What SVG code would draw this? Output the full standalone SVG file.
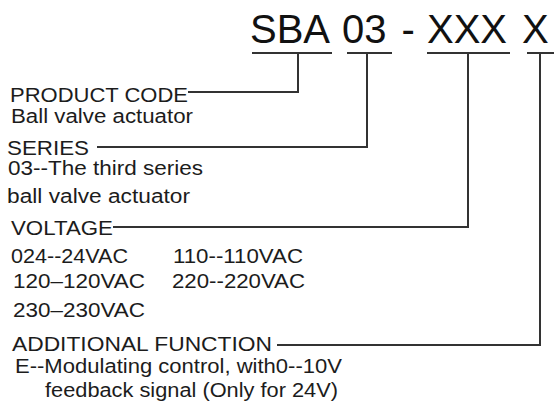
<svg xmlns="http://www.w3.org/2000/svg" width="554" height="405" viewBox="0 0 554 405">
<style>
.t{font-family:"Liberation Sans",Arial,sans-serif;font-size:20px;fill:#1c1c1c}
.big{font-family:"Liberation Sans",Arial,sans-serif;font-size:40px;fill:#111}
.c{fill:none;stroke:#333;stroke-width:2}
</style>
<rect width="554" height="405" fill="#fff"/>
<g id="code">
<text class="big" x="250" y="43">SBA</text>
<text class="big" x="342" y="43">03</text>
<text class="big" x="401.5" y="43">-</text>
<text class="big" x="427" y="43">XXX</text>
<text class="big" x="522" y="43">X</text>
</g>
<g id="product-code">
<text class="t" x="10" y="102" textLength="178" lengthAdjust="spacingAndGlyphs">PRODUCT CODE</text>
<text class="t" x="11" y="123" textLength="182" lengthAdjust="spacingAndGlyphs">Ball valve actuator</text>
</g>
<g id="series">
<text class="t" x="7" y="155" textLength="82" lengthAdjust="spacingAndGlyphs">SERIES</text>
<text class="t" x="8" y="175" textLength="195" lengthAdjust="spacingAndGlyphs">03--The third series</text>
<text class="t" x="7" y="203" textLength="183" lengthAdjust="spacingAndGlyphs">ball valve actuator</text>
</g>
<g id="voltage">
<text class="t" x="11" y="235" textLength="102" lengthAdjust="spacingAndGlyphs">VOLTAGE</text>
<text class="t" x="11" y="263" textLength="117" lengthAdjust="spacingAndGlyphs">024--24VAC</text>
<text class="t" x="173" y="263" textLength="130" lengthAdjust="spacingAndGlyphs">110--110VAC</text>
<text class="t" x="13" y="288" textLength="132" lengthAdjust="spacingAndGlyphs">120–120VAC</text>
<text class="t" x="172" y="288" textLength="133" lengthAdjust="spacingAndGlyphs">220--220VAC</text>
<text class="t" x="13" y="317" textLength="132" lengthAdjust="spacingAndGlyphs">230–230VAC</text>
</g>
<g id="additional-function">
<text class="t" x="12" y="351" textLength="260" lengthAdjust="spacingAndGlyphs">ADDITIONAL FUNCTION</text>
<text class="t" x="15" y="373" textLength="327" lengthAdjust="spacingAndGlyphs">E--Modulating control, with0--10V</text>
<text class="t" x="45" y="397" textLength="293" lengthAdjust="spacingAndGlyphs">feedback signal (Only for 24V)</text>
</g>
<g id="connectors">
<path class="c" d="M252 53H332M347 53H392M427 53H510M527 53H554"/>
<path class="c" d="M298 53V92H188"/>
<path class="c" d="M367 53V147H97"/>
<path class="c" d="M468 53V227H113"/>
<path class="c" d="M540 53V345H277"/>
</g>
</svg>
